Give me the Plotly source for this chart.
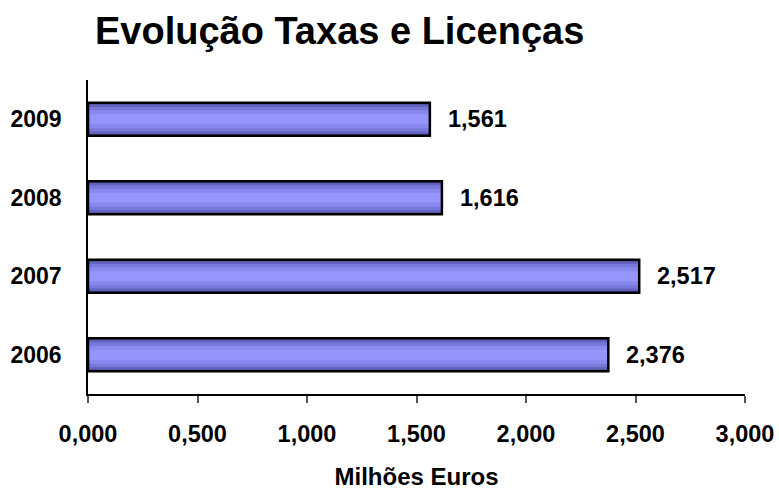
import plotly.graph_objects as go

years = ["2006", "2007", "2008", "2009"]
values = [2.376, 2.517, 1.616, 1.561]
x_ticks = [0, 0.5, 1.0, 1.5, 2.0, 2.5, 3.0]

title = "Evolução Taxas e Licenças"
x_title = "Milhões Euros"

FONT = "Liberation Sans, Arial, sans-serif"

pos = list(range(len(years)))

# gradient layers (outer -> inner)
layers = [
    (0.42, "#5252a2"),
    (0.37, "#6464c0"),
    (0.31, "#7878da"),
    (0.23, "#8888ee"),
    (0.13, "#9595fb"),
]

fig = go.Figure()
for w, c in layers:
    fig.add_trace(go.Bar(
        y=pos, x=values, orientation="h", width=w,
        marker=dict(color=c, line=dict(width=0)),
        showlegend=False, hoverinfo="skip",
    ))
# outline
fig.add_trace(go.Bar(
    y=pos, x=values, orientation="h", width=0.42,
    marker=dict(color="rgba(0,0,0,0)", line=dict(color="black", width=2.5)),
    showlegend=False,
))

for p, v in zip(pos, values):
    fig.add_annotation(
        x=v, y=p, text=f"{v:.3f}".replace(".", ","),
        xanchor="left", yanchor="middle", xshift=16, showarrow=False,
        font=dict(family=FONT, size=23.5, color="black", weight="bold"),
    )

fig.update_layout(
    width=779, height=490,
    barmode="overlay",
    separators=",.",
    plot_bgcolor="white", paper_bgcolor="white",
    margin=dict(l=88, r=34, t=80, b=96, autoexpand=False),
    title=dict(text=title, x=0.436, xanchor="center", y=0.937, yanchor="middle",
               font=dict(family=FONT, size=38, color="black", weight="bold")),
    font=dict(family=FONT, color="black"),
)
fig.update_xaxes(
    range=[0, 3], autorange=False, tickvals=x_ticks, tickformat=".3f",
    automargin=False,
    showline=True, linecolor="black", linewidth=1.5,
    ticks="outside", ticklen=7, tickcolor="#555", tickwidth=1.5,
    ticklabelstandoff=11,
    showgrid=False, zeroline=False,
    tickfont=dict(family=FONT, size=23.5, color="black", weight="bold"),
    title=dict(text=x_title, font=dict(family=FONT, size=24, color="black", weight="bold"), standoff=23),
)
fig.update_yaxes(
    range=[-0.5, len(years) - 0.5], autorange=False,
    automargin=False,
    tickvals=pos, ticktext=years,
    showline=True, linecolor="black", linewidth=1.5,
    showgrid=False, zeroline=False, ticks="", ticklabelstandoff=20,
    tickfont=dict(family=FONT, size=23, color="black", weight="bold"),
)
fig.write_html("out.html")
